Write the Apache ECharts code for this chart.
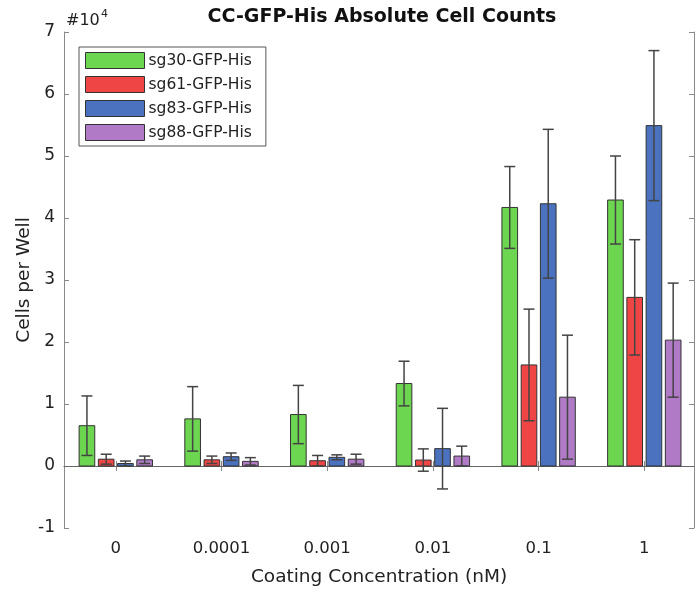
<!DOCTYPE html>
<html>
<head>
<meta charset="utf-8">
<script src="https://cdn.jsdelivr.net/npm/echarts@6/dist/echarts.min.js"></script>
<style>html,body{margin:0;padding:0;background:#fff}#c{width:696px;height:592px}</style>
</head>
<body>
<div id="c"></div>
<script>
// Data (values in units of 10^4 cells)
const categories = ['0', '0.0001', '0.001', '0.01', '0.1', '1'];
const seriesNames = ['sg30-GFP-His', 'sg61-GFP-His', 'sg83-GFP-His', 'sg88-GFP-His'];
const sg30 = [0.65, 0.76, 0.83, 1.33, 4.17, 4.29];
const sg30Err = [0.48, 0.52, 0.47, 0.36, 0.66, 0.71];
const sg61 = [0.11, 0.10, 0.085, 0.096, 1.63, 2.72];
const sg61Err = [0.08, 0.06, 0.085, 0.18, 0.90, 0.93];
const sg83 = [0.04, 0.15, 0.14, 0.28, 4.23, 5.49];
const sg83Err = [0.04, 0.06, 0.04, 0.65, 1.20, 1.21];
const sg88 = [0.10, 0.075, 0.11, 0.16, 1.11, 2.03];
const sg88Err = [0.06, 0.06, 0.08, 0.16, 1.00, 0.92];
const yTicks = [-1, 0, 1, 2, 3, 4, 5, 6, 7];

const colors = ['#6cd650', '#f04545', '#4a72bf', '#b07ac6'];
const values = [sg30, sg61, sg83, sg88];
const errors = [sg30Err, sg61Err, sg83Err, sg88Err];
const PITCH = 0.182, BW = 0.148, CAP = 5.5;
const catPos = categories.map((c, i) => i + 1);

function makeRender(s) {
  return function (params, api) {
    const x = api.value(0), v = api.value(1), e = api.value(2);
    const xc = x + (s - 1.5) * PITCH;
    const a = api.coord([xc - BW / 2, v]);
    const b = api.coord([xc + BW / 2, 0]);
    const top = api.coord([xc, v + e]);
    const bot = api.coord([xc, v - e]);
    const lineStyle = { stroke: '#444', lineWidth: 1.5 };
    return {
      type: 'group',
      children: [
        { type: 'rect', shape: { x: a[0], y: Math.min(a[1], b[1]), width: b[0] - a[0], height: Math.abs(b[1] - a[1]) },
          style: { fill: colors[s], stroke: '#333', lineWidth: 1 } },
        { type: 'line', shape: { x1: top[0], y1: top[1], x2: bot[0], y2: bot[1] }, style: lineStyle },
        { type: 'line', shape: { x1: top[0] - CAP, y1: top[1], x2: top[0] + CAP, y2: top[1] }, style: lineStyle },
        { type: 'line', shape: { x1: bot[0] - CAP, y1: bot[1], x2: bot[0] + CAP, y2: bot[1] }, style: lineStyle }
      ]
    };
  };
}

const series = seriesNames.map((name, s) => {
  const o = {
    name: name,
    type: 'custom',
    xAxisIndex: 0, yAxisIndex: 0,
    renderItem: makeRender(s),
    itemStyle: { color: colors[s], borderColor: '#333', borderWidth: 1 },
    encode: { x: 0, y: 1 },
    data: catPos.map((p, i) => [p, values[s][i], errors[s][i]]),
    z: 3
  };
  if (s === 0) {
    o.markLine = {
      silent: true, symbol: 'none', label: { show: false },
      lineStyle: { color: '#666', width: 1, type: 'solid' },
      data: [{ yAxis: 0 }], z: 2
    };
  }
  return o;
});

const FONT = 'DejaVu Sans';
const axisColor = '#8a8a8a';
const chart = echarts.init(document.getElementById('c'), null, { renderer: 'canvas' });
chart.setOption({
  backgroundColor: '#fff',
  animation: false,
  grid: { left: 64, right: 2, top: 32, bottom: 62, containLabel: false },
  legend: {
    orient: 'vertical', left: 79, top: 47,
    data: seriesNames,
    icon: 'rect', itemWidth: 59, itemHeight: 16, itemGap: 7,
    padding: [5, 14, 5, 6],
    borderColor: '#555', borderWidth: 1, backgroundColor: '#fff',
    itemStyle: { borderColor: '#333', borderWidth: 1 },
    textStyle: { fontFamily: FONT, fontSize: 15.5, color: '#222', padding: [0, 0, 0, -1] },
    selectedMode: false
  },
  xAxis: [
    {
      type: 'value', position: 'bottom', min: 0.51, max: 6.47,
      name: 'Coating Concentration (nM)', nameLocation: 'middle', nameGap: 40,
      nameTextStyle: { fontFamily: FONT, fontSize: 18.5, color: '#222' },
      axisLine: { show: true, lineStyle: { color: axisColor, width: 1 } },
      axisTick: { show: true, inside: true, length: 5, customValues: catPos, lineStyle: { color: axisColor } },
      axisLabel: { customValues: catPos, fontFamily: FONT, fontSize: 16.5, color: '#222', margin: 12,
        formatter: v => categories[Math.round(v) - 1] },
      splitLine: { show: false }
    },
    {
      type: 'value', position: 'top', min: 0.51, max: 6.47,
      axisLine: { show: true, lineStyle: { color: axisColor, width: 1 } },
      axisTick: { show: true, inside: true, length: 5, customValues: catPos, lineStyle: { color: axisColor } },
      axisLabel: { show: false },
      splitLine: { show: false }
    }
  ],
  yAxis: [
    {
      type: 'value', position: 'left', min: -1, max: 7, interval: 1,
      name: 'Cells per Well', nameLocation: 'middle', nameGap: 30, nameRotate: 90,
      nameMoveOverlap: false,
      nameTextStyle: { fontFamily: FONT, fontSize: 18.5, color: '#222' },
      axisLine: { show: true, lineStyle: { color: axisColor, width: 1 } },
      axisTick: { show: true, inside: true, length: 5, lineStyle: { color: axisColor } },
      axisLabel: { fontFamily: FONT, fontSize: 17, color: '#222', margin: 9,
        formatter: v => String(yTicks[yTicks.indexOf(v)]) },
      splitLine: { show: false }
    },
    {
      type: 'value', position: 'right', min: -1, max: 7, interval: 1,
      axisLine: { show: true, lineStyle: { color: axisColor, width: 1 } },
      axisTick: { show: true, inside: true, length: 5, lineStyle: { color: axisColor } },
      axisLabel: { show: false },
      splitLine: { show: false }
    }
  ],
  graphic: [
    { type: 'text', x: 382, y: 17, style: { text: 'CC-GFP-His Absolute Cell Counts', font: 'bold 19px "DejaVu Sans"', fill: '#111', textAlign: 'center', textVerticalAlign: 'middle' } },
    { type: 'text', x: 66, y: 21, style: { text: '#10', font: '16px "DejaVu Sans"', fill: '#222', textAlign: 'left', textVerticalAlign: 'middle' } },
    { type: 'text', x: 101, y: 14, style: { text: '4', font: '11px "DejaVu Sans"', fill: '#222', textAlign: 'left', textVerticalAlign: 'middle' } }
  ],
  series: series
});
</script>
</body>
</html>
